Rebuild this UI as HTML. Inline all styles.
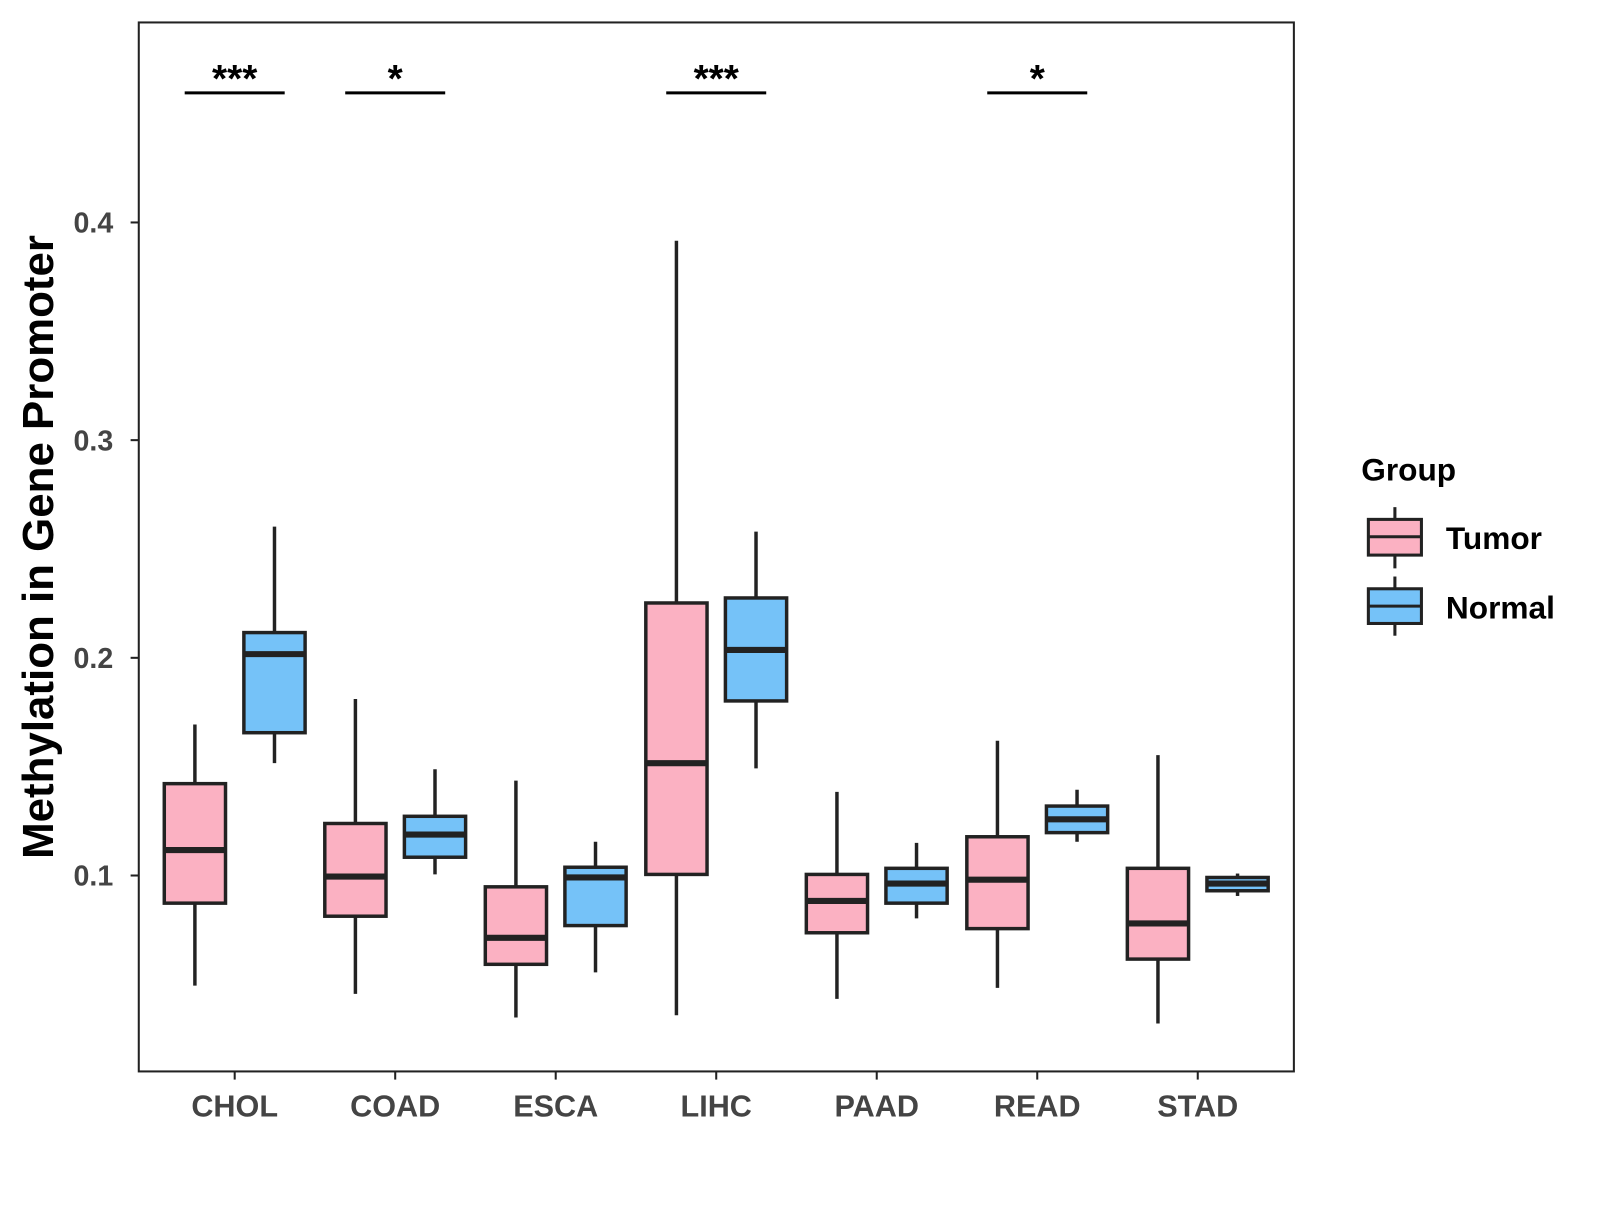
<!DOCTYPE html>
<html><head><meta charset="utf-8"><style>
body{margin:0;background:#fff;}
svg text{font-family:"Liberation Sans",Arial,sans-serif;font-weight:bold;}
</style></head><body>
<svg id="chart" width="1600" height="1200" viewBox="0 0 1600 1200">
<g transform="scale(1.020408)">
<rect x="136" y="22" width="1132" height="1028" fill="#fff" stroke="#222" stroke-width="2"/>
<g id="marks"></g>
<text x="52" y="536" font-size="43" text-anchor="middle" transform="rotate(-90 52 536)" fill="#000">Methylation in Gene Promoter</text>
<g>
<text x="1334" y="471" font-size="31" fill="#000">Group</text>
<g>
<line x1="1367" y1="497" x2="1367" y2="557" stroke="#222" stroke-width="3"/>
<rect x="1341" y="509" width="52" height="35" fill="#FBB1C2" stroke="#222" stroke-width="3"/>
<line x1="1341" y1="526" x2="1393" y2="526" stroke="#222" stroke-width="3"/>
<text x="1417" y="538" font-size="31" fill="#000">Tumor</text></g>
<g>
<line x1="1367" y1="565" x2="1367" y2="623" stroke="#222" stroke-width="3"/>
<rect x="1341" y="577" width="52" height="34" fill="#75C2F8" stroke="#222" stroke-width="3"/>
<line x1="1341" y1="594" x2="1393" y2="594" stroke="#222" stroke-width="3"/>
<text x="1417" y="606" font-size="31" fill="#000">Normal</text></g>
</g>
</g>
</svg>
<script>
const categories=["CHOL","COAD","ESCA","LIHC","PAAD","READ","STAD"];
const tumorStats=[[0.0494,0.0873,0.1117,0.1422,0.1694],[0.0456,0.0813,0.0995,0.1239,0.1811],[0.0348,0.0592,0.0714,0.0948,0.1436],[0.0358,0.1005,0.1516,0.2252,0.3916],[0.0433,0.0737,0.0883,0.1005,0.1384],[0.0484,0.0756,0.0981,0.1178,0.1619],[0.032,0.0616,0.078,0.1033,0.1553]];
const normalStats=[[0.1516,0.1656,0.2017,0.2116,0.2603],[0.1005,0.1084,0.1188,0.1272,0.1488],[0.0555,0.077,0.0991,0.1038,0.1155],[0.1492,0.1802,0.2036,0.2275,0.258],[0.0803,0.0873,0.0963,0.1033,0.115],[0.1155,0.1197,0.1258,0.1319,0.1394],[0.0906,0.093,0.0963,0.0991,0.1009]];
const signif=["***","*","","***","","*",""];
const yTicks=[0.1,0.2,0.3,0.4];
const NS="http://www.w3.org/2000/svg";
const g=document.getElementById("marks");
function y(v){return 858-(v-0.1)*2133.3;}
function xc(i){return 230+i*157.3;}
function el(t,a,p){const e=document.createElementNS(NS,t);for(const k in a)e.setAttribute(k,a[k]);(p||g).appendChild(e);return e;}
yTicks.forEach(t=>{
 const l=el("line",{x1:128,x2:136,y1:y(t),y2:y(t),stroke:"#222","stroke-width":2});
 
 
 const tx=el("text",{x:111,y:y(t)+10,"font-size":28,"text-anchor":"end",fill:"#444"});
 tx.textContent=t.toFixed(1);
 
 
});
function box(s,cx,fill,name){
 const gg=el("g",{});
 
 
 el("line",{x1:cx,x2:cx,y1:y(s[0]),y2:y(s[4]),stroke:"#222","stroke-width":3.4},gg);
 el("rect",{x:cx-30,width:60,y:y(s[3]),height:Math.max(1,y(s[1])-y(s[3])),fill:fill,stroke:"#222","stroke-width":3.4},gg);
 el("line",{x1:cx-30,x2:cx+30,y1:y(s[2]),y2:y(s[2]),stroke:"#222","stroke-width":6},gg);
}
categories.forEach((c,i)=>{
 const x=xc(i);
 box(tumorStats[i],x-39,"#FBB1C2","box-tumor-"+c.toLowerCase());
 box(normalStats[i],x+39,"#75C2F8","box-normal-"+c.toLowerCase());
 const tk=el("line",{x1:x,x2:x,y1:1050,y2:1058,stroke:"#222","stroke-width":2});
 
 
 const tx=el("text",{x:x,y:1094,"font-size":30,"text-anchor":"middle",fill:"#444"});
 tx.textContent=c;
 
 
 if(signif[i]){
  const sg=el("g",{});
  
  
  el("line",{x1:x-49,x2:x+49,y1:91,y2:91,stroke:"#000","stroke-width":3},sg);
  const st=el("text",{x:x,y:90,"font-size":38,"text-anchor":"middle",fill:"#000"},sg);
  st.textContent=signif[i];
 }
});
</script>
</body></html>
